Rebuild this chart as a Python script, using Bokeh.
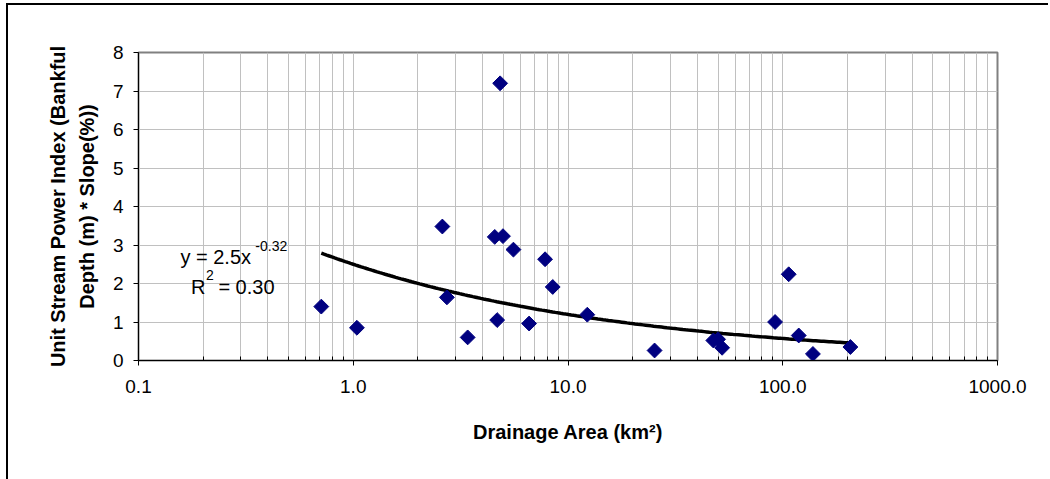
import numpy as np
from bokeh.plotting import figure
from bokeh.models import Range1d, FixedTicker, PrintfTickFormatter, Label, ColumnDataSource
from bokeh.embed import file_html
from bokeh.resources import INLINE

# ---- data ----
drainage_area = [0.71, 1.04, 2.60, 2.73, 3.41, 4.56, 4.98, 4.83, 4.68, 5.57, 6.59, 7.82,
                 8.49, 12.3, 25.3, 47.5, 50.0, 52.2, 92.1, 106.6, 118.7, 138.2, 206.5]
stream_power = [1.40, 0.85, 3.48, 1.64, 0.60, 3.21, 3.23, 7.20, 1.05, 2.88, 0.96, 2.63,
                1.91, 1.19, 0.26, 0.52, 0.55, 0.33, 1.00, 2.24, 0.65, 0.17, 0.35]
x_tick_values = [0.1, 1, 10, 100, 1000]
y_tick_values = [0, 1, 2, 3, 4, 5, 6, 7, 8]
trend_a = 2.5
trend_b = -0.32
equation_text = "y = 2.5x"
equation_exp = "-0.32"
r2_base = "R"
r2_exp = "2"
r2_rest = "= 0.30"
x_title = "Drainage Area (km\u00b2)"
y_title = "Unit Stream Power Index (Bankful\nDepth (m) * Slope(%))"

FONT = "Liberation Sans"

p = figure(width=1042, height=476, x_axis_type="log",
           x_range=Range1d(0.1, 1000), y_range=Range1d(0, 8),
           output_backend="svg", toolbar_location=None,
           min_border_left=130, min_border_right=53, min_border_top=47, min_border_bottom=121)
p.styles = {"border-left": "2px solid black", "border-top": "2px solid black",
            "margin-left": "6px", "margin-top": "3px"}

p.background_fill_color = "white"
p.border_fill_color = "white"
p.outline_line_color = "#808080"
p.outline_line_width = 2

minor = []
for d in [0.1, 1, 10, 100]:
    for k in range(2, 10):
        minor.append(d * k)

p.xaxis.ticker = FixedTicker(ticks=x_tick_values, minor_ticks=minor)
p.xaxis.formatter = PrintfTickFormatter(format="%.1f")
p.yaxis.ticker = FixedTicker(ticks=y_tick_values)

for ax in (p.xaxis[0], p.yaxis[0]):
    ax.axis_line_color = "black"
    ax.axis_line_width = 1
    ax.major_tick_line_color = "black"
    ax.major_tick_in = 0
    ax.major_tick_out = 5
    ax.major_label_text_font = FONT
    ax.major_label_text_font_size = "19px"
    ax.major_label_text_color = "black"
    ax.axis_label_text_font = FONT
    ax.axis_label_text_font_size = "20px"
    ax.axis_label_text_font_style = "bold"
    ax.axis_label_text_color = "black"

p.xaxis.minor_tick_line_color = "black"
p.xaxis.minor_tick_in = 4
p.xaxis.minor_tick_out = 0
p.yaxis.minor_tick_line_color = None

p.xaxis.major_label_standoff = 14
p.yaxis.major_label_standoff = 10
p.xaxis.axis_label = x_title
p.yaxis.axis_label = y_title
p.yaxis.axis_label_text_line_height = 1.3
p.xaxis.axis_label_standoff = 25
p.yaxis.axis_label_standoff = 12

p.xgrid.grid_line_color = "#c0c0c0"
p.xgrid.minor_grid_line_color = "#c0c0c0"
p.ygrid.grid_line_color = "#c0c0c0"

# trendline from the fitted power law shown on the chart
tx = np.geomspace(min(drainage_area), max(drainage_area), 200)
ty = trend_a * tx ** trend_b
p.line(tx, ty, line_color="black", line_width=3.5)

src = ColumnDataSource(dict(x=drainage_area, y=stream_power))
p.scatter("x", "y", source=src, marker="square", angle=np.pi / 4, size=10.5,
          fill_color="#000080", line_color="#000080")


def add_text(x, y, text, size):
    p.add_layout(Label(x=x, y=y, text=text, text_font=FONT, text_font_size=size,
                       text_color="black", text_align="left", text_baseline="alphabetic"))


add_text(0.1568, 2.70, equation_text, "20px")
add_text(0.350, 2.98, equation_exp, "14px")
add_text(0.1758, 1.90, r2_base, "20px")
add_text(0.2062, 2.22, r2_exp, "14px")
add_text(0.2355, 1.90, r2_rest, "20px")

open("out.html", "w").write(file_html(p, INLINE))
